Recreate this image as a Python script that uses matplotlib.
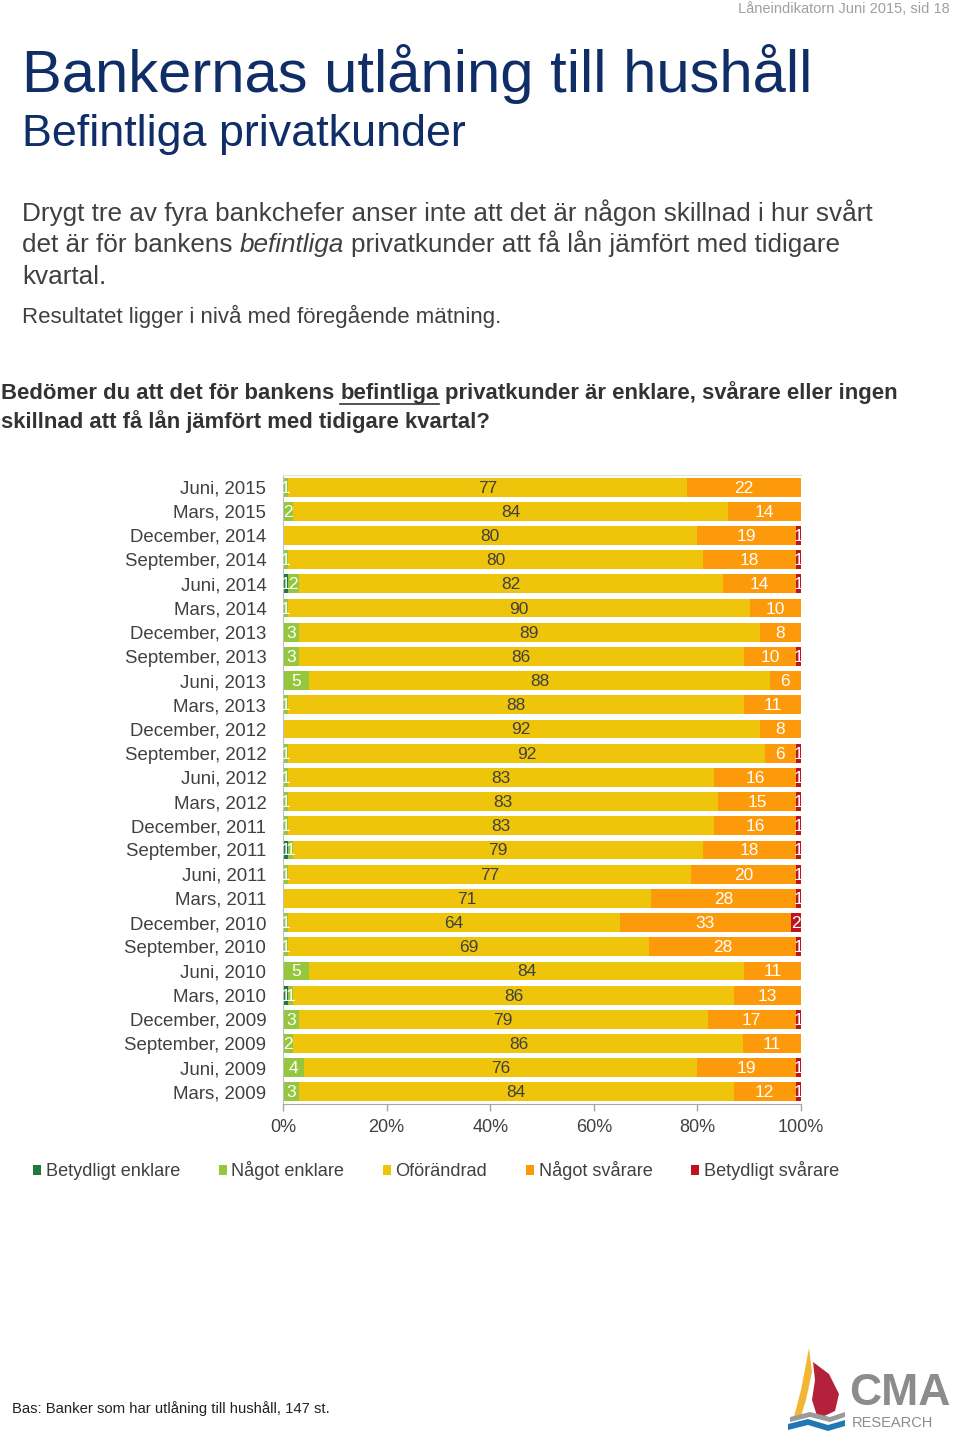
import matplotlib
matplotlib.use("Agg")
import matplotlib.pyplot as plt
import numpy as np
from matplotlib.patches import Polygon

plt.rcParams['font.family'] = ['Liberation Sans', 'DejaVu Sans']

# ---------------- data ----------------
periods = ["Juni, 2015", "Mars, 2015", "December, 2014", "September, 2014",
           "Juni, 2014", "Mars, 2014", "December, 2013", "September, 2013",
           "Juni, 2013", "Mars, 2013", "December, 2012", "September, 2012",
           "Juni, 2012", "Mars, 2012", "December, 2011", "September, 2011",
           "Juni, 2011", "Mars, 2011", "December, 2010", "September, 2010",
           "Juni, 2010", "Mars, 2010", "December, 2009", "September, 2009",
           "Juni, 2009", "Mars, 2009"]
betydligt_enklare = [0, 0, 0, 0, 1, 0, 0, 0, 0, 0, 0, 0, 0, 0, 0, 1, 0, 0, 0, 0, 0, 1, 0, 0, 0, 0]
nagot_enklare     = [1, 2, 0, 1, 2, 1, 3, 3, 5, 1, 0, 1, 1, 1, 1, 1, 1, 0, 1, 1, 5, 1, 3, 2, 4, 3]
oforandrad        = [77, 84, 80, 80, 82, 90, 89, 86, 88, 88, 92, 92, 83, 83, 83, 79, 77, 71, 64, 69, 84, 86, 79, 86, 76, 84]
nagot_svarare     = [22, 14, 19, 18, 14, 10, 8, 10, 6, 11, 8, 6, 16, 15, 16, 18, 20, 28, 33, 28, 11, 13, 17, 11, 19, 12]
betydligt_svarare = [0, 0, 1, 1, 1, 0, 0, 1, 0, 0, 0, 1, 1, 1, 1, 1, 1, 1, 2, 1, 0, 0, 1, 0, 1, 1]
series_names = ["Betydligt enklare", "Något enklare", "Oförändrad", "Något svårare", "Betydligt svårare"]
xtick_values = [0, 20, 40, 60, 80, 100]
xtick_labels = ["0%", "20%", "40%", "60%", "80%", "100%"]

colors = ["#1f7a3a", "#94c73d", "#efc50c", "#fd9a0b", "#c0141c"]
label_colors = ["white", "white", "#404040", "white", "white"]

W, H = 960, 1431
fig = plt.figure(figsize=(W / 100, H / 100), dpi=100)
fig.patch.set_facecolor("white")

# overlay axes in pixel coordinates for page text / logo
ov = fig.add_axes([0, 0, 1, 1])
ov.set_xlim(0, W)
ov.set_ylim(H, 0)
ov.axis("off")
ov.patch.set_visible(False)
ov.set_zorder(0)

# ---------------- chart ----------------
ax = fig.add_axes([283 / W, 1 - 1104 / H, 518 / W, 629 / H])
ax.set_zorder(1)
data = np.array([betydligt_enklare, nagot_enklare, oforandrad, nagot_svarare, betydligt_svarare], dtype=float)
totals = data.sum(axis=0)
shares = data / totals * 100
y = np.arange(len(periods))
left = np.zeros(len(periods))
handles = []
for i in range(len(series_names)):
    b = ax.barh(y, shares[i], left=left, height=0.78, color=colors[i],
                label=series_names[i], linewidth=0)
    handles.append(b)
    for j in range(len(periods)):
        v = data[i, j]
        if v > 0:
            ax.text(left[j] + shares[i, j] / 2, y[j] + 0.04, f"{int(v)}",
                    ha="center", va="center", fontsize=12.5,
                    color=label_colors[i], clip_on=True)
    left += shares[i]

ax.set_xlim(0, 100)
ax.set_ylim(len(periods) - 0.5, -0.5)
ax.set_yticks(y)
ax.set_yticklabels(periods, fontsize=13.4, color="#404040")
ax.tick_params(axis="y", length=0, pad=12)
ax.set_xticks(xtick_values)
ax.set_xticklabels(xtick_labels, fontsize=13, color="#404040")
ax.tick_params(axis="x", length=5, width=1, color="#a6a6a6", pad=6)
ax.spines["right"].set_visible(False)
ax.spines["top"].set_color("#e0e0e0")
ax.spines["left"].set_color("#bfbfbf")
ax.spines["bottom"].set_color("#a6a6a6")

fig.legend(handles=handles, labels=series_names, loc="center left",
           bbox_to_anchor=(33 / W, 1 - 1171 / H), ncol=5, frameon=False,
           fontsize=13.1, handlelength=0.45, handleheight=0.45,
           handletextpad=0.25, columnspacing=2.12, borderpad=0, borderaxespad=0,
           labelcolor="#404040")

# ---------------- page text ----------------
renderer = fig.canvas.get_renderer()

def width_of(txt, **kw):
    t = ov.text(0, 0, txt, **kw)
    w = t.get_window_extent(renderer).width
    t.remove()
    return w

def runs(x, yb, parts, **kw):
    sp = width_of("a a", **kw) - width_of("aa", **kw)
    pos = []
    for txt, style in parts:
        t = ov.text(x, yb, txt, va="baseline", ha="left", style=style, **kw)
        w = t.get_window_extent(renderer).width
        pos.append((x, w))
        x += w + sp
    return pos

ov.text(950, 13, "Låneindikatorn Juni 2015, sid 18", ha="right", va="baseline",
        fontsize=10.5, color="#a0a0a0")
ov.text(22, 92, "Bankernas utlåning till hushåll", ha="left", va="baseline",
        fontsize=43, color="#0f2d66")
ov.text(22, 146, "Befintliga privatkunder", ha="left", va="baseline",
        fontsize=32.3, color="#0f2d66")

pk = dict(fontsize=18.8, color="#404040")
ov.text(22, 221, "Drygt tre av fyra bankchefer anser inte att det är någon skillnad i hur svårt",
        ha="left", va="baseline", **pk)
runs(22, 252, [("det är för bankens", "normal"), ("befintliga", "italic"),
               ("privatkunder att få lån jämfört med tidigare", "normal")], **pk)
ov.text(22, 284, "kvartal.", ha="left", va="baseline", **pk)
ov.text(22, 323, "Resultatet ligger i nivå med föregående mätning.", ha="left",
        va="baseline", fontsize=16, color="#404040")

qk = dict(fontsize=15.9, color="#333333", weight="bold")
pos = runs(1, 399, [("Bedömer du att det för bankens", "normal"), ("befintliga", "normal"),
                    ("privatkunder är enklare, svårare eller ingen", "normal")], **qk)
ux, uw = pos[1]
ov.plot([ux, ux + uw], [404, 404], color="#333333", lw=1.2)
ov.text(1, 428, "skillnad att få lån jämfört med tidigare kvartal?", ha="left",
        va="baseline", **qk)

ov.text(12, 1413, "Bas: Banker som har utlåning till hushåll, 147 st.", ha="left",
        va="baseline", fontsize=10.7, color="#222222")

# ---------------- logo ----------------
ov.add_patch(Polygon([(809, 1348), (812, 1372), (806, 1400), (800, 1419), (794, 1417), (801, 1390)],
                     closed=True, color="#f2b534", lw=0))
ov.add_patch(Polygon([(813, 1362), (829, 1374), (839, 1394), (835, 1411), (818, 1419), (812, 1400), (815, 1380)],
                     closed=True, color="#b3213a", lw=0))
ov.add_patch(Polygon([(790, 1417), (810, 1412), (830, 1417), (845, 1412), (845, 1417), (830, 1422), (810, 1417), (790, 1422)],
                     closed=True, color="#9a9a9a", lw=0))
ov.add_patch(Polygon([(788, 1424), (808, 1419), (828, 1425), (845, 1420), (845, 1426), (828, 1431), (808, 1425), (788, 1430)],
                     closed=True, color="#1f78b4", lw=0))
ov.text(849, 1405, "CMA", ha="left", va="baseline", fontsize=32, weight="bold", color="#8c8c8c")
ov.text(852, 1430, "RESEARCH", ha="left", va="bottom", fontsize=10.5, color="#8c8c8c")

fig.savefig("out.png", dpi=100, facecolor="white")
